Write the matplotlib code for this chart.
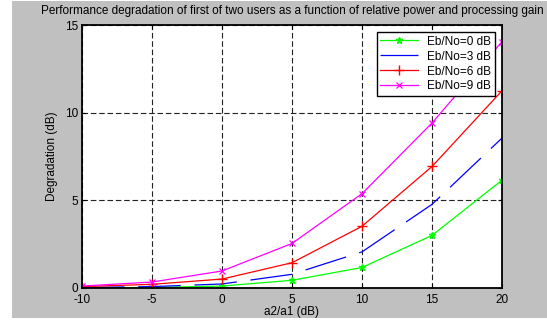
import numpy as np
import matplotlib.pyplot as plt
import matplotlib as mpl
from matplotlib.patches import Rectangle

mpl.rcParams['font.family'] = ['Liberation Sans', 'DejaVu Sans']
mpl.rcParams['font.size'] = 8.5
mpl.rcParams['axes.unicode_minus'] = False

# relative power a2/a1 in dB
ratio_db = [-10, -5, 0, 5, 10, 15, 20]
# degradation (dB) per Eb/No
deg_0 = [0.01, 0.03, 0.11, 0.44, 1.17, 3.0, 6.15]
deg_3 = [0.03, 0.08, 0.23, 0.78, 2.06, 4.77, 8.55]
deg_6 = [0.08, 0.21, 0.51, 1.44, 3.52, 6.93, 11.25]
deg_9 = [0.11, 0.34, 0.97, 2.54, 5.38, 9.41, 14.05]

xticks = [-10, -5, 0, 5, 10, 15, 20]
yticks = [0, 5, 10, 15]

fig = plt.figure(figsize=(5.47, 3.21), dpi=100, facecolor='white')
# grey frame as in the matlab screenshot
bg = Rectangle((12/547, 3/321), 535/547, 317/321, transform=fig.transFigure,
               facecolor='#c0c0c0', edgecolor='none', zorder=-10)
fig.add_artist(bg)
ax = fig.add_axes([82/547, 33/321, 420/547, 263/321])
ax.set_facecolor('white')

ax.plot(ratio_db, deg_0, color='#00ff00', marker='*', ms=5, lw=0.9, label='Eb/No=0 dB')
ax.plot(ratio_db, deg_3, color='#0000ff', lw=0.9, dashes=(34, 11), label='Eb/No=3 dB')
ax.plot(ratio_db, deg_6, color='#ff0000', marker='+', ms=6.5, mew=1, lw=0.9, label='Eb/No=6 dB')
ax.plot(ratio_db, deg_9, color='#ff00ff', marker='x', ms=4, mew=0.9, lw=0.9, label='Eb/No=9 dB')

ax.set_xlim(-10, 20)
ax.set_ylim(0, 15)
ax.set_xticks(xticks)
ax.set_yticks(yticks)
ax.grid(True, color='#222222', linestyle=(0, (5, 2.5)), linewidth=0.8)
ax.tick_params(direction='in', length=3, width=0.8, top=True, right=True, pad=3, labelsize=8.5)
ax.tick_params(axis='x', pad=4)
for sp in ax.spines.values():
    sp.set_linewidth(1.3)

ax.set_title('Performance degradation of first of two users as a function of relative power and processing gain',
             fontsize=8.5, pad=8)
ax.set_xlabel('a2/a1 (dB)', fontsize=8.5, labelpad=0)
ax.set_ylabel('Degradation (dB)', fontsize=8.5, labelpad=5)

leg = ax.legend(loc='upper right', fontsize=8.5, fancybox=False, framealpha=1, edgecolor='black',
                handlelength=3.2, borderpad=0.3, labelspacing=0.25, borderaxespad=0.6)
leg.get_frame().set_linewidth(1.0)

plt.savefig('out.png', dpi=100, facecolor='white')
